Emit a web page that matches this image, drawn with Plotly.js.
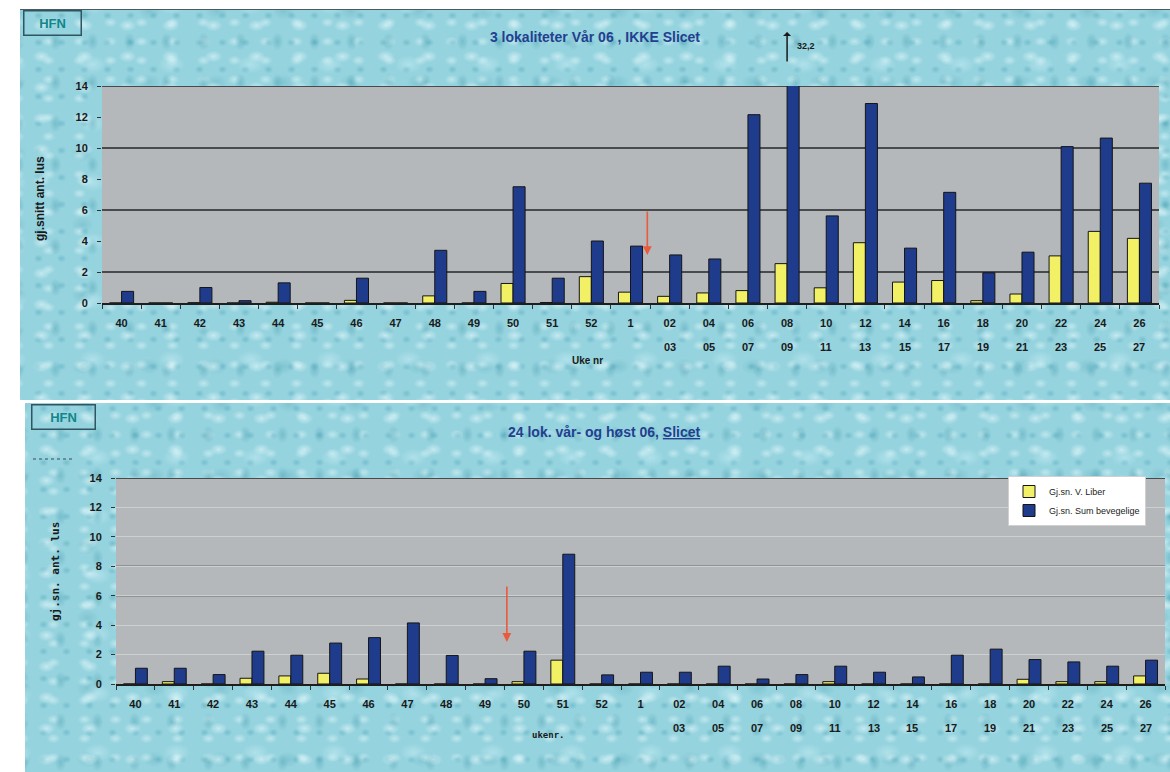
<!DOCTYPE html>
<html>
<head>
<meta charset="utf-8">
<script src="https://cdn.plot.ly/plotly-3.0.1.min.js"></script>
<style>
  html, body { margin:0; padding:0; background:#ffffff; }
  #wrap { position:relative; width:1170px; height:772px; overflow:hidden; background:#fff; }
  .panel {
    position:absolute;
    background-color:#95d3de;
    background-image:
      radial-gradient(ellipse 9px 6px at 50% 50%, rgba(235,252,255,0.55), rgba(235,252,255,0) 100%),
      radial-gradient(ellipse 6px 9px at 50% 50%, rgba(40,135,155,0.28), rgba(40,135,155,0) 100%),
      radial-gradient(ellipse 14px 9px at 50% 50%, rgba(215,246,252,0.4), rgba(215,246,252,0) 100%),
      radial-gradient(ellipse 5px 4px at 50% 50%, rgba(50,145,170,0.3), rgba(50,145,170,0) 100%),
      radial-gradient(ellipse 7px 5px at 50% 50%, rgba(240,255,255,0.45), rgba(240,255,255,0) 100%),
      radial-gradient(ellipse 11px 8px at 50% 50%, rgba(60,150,170,0.22), rgba(60,150,170,0) 100%);
    background-size: 43px 31px, 37px 41px, 79px 59px, 23px 27px, 31px 19px, 67px 71px;
    background-position: 0 0, 17px 11px, 33px 25px, 7px 19px, 13px 3px, 29px 37px;
  }
  #p1 { left:20px; top:9px; width:1150px; height:390px; border-top:1px solid #4a5a60; }
  #p2 { left:25px; top:403px; width:1145px; height:369px; }
  #chart { position:absolute; left:0; top:0; width:1170px; height:772px; }
</style>
</head>
<body>
<div id="wrap">
  <div class="panel" id="p1"></div>
  <div class="panel" id="p2"></div>
  <div id="chart"></div>
</div>
<script>
// Week categories (first line of tick label) and second line for paired weeks
const weeks = ['40','41','42','43','44','45','46','47','48','49','50','51','52','1',
               '02','04','06','08','10','12','14','16','18','20','22','24','26'];
const weeks2 = ['','','','','','','','','','','','','','',
               '03','05','07','09','11','13','15','17','19','21','23','25','27'];

// Top chart: 3 lokaliteter Vår 06, IKKE Slicet
const topYellow = [0,0,0.02,0,0.05,0,0.17,0,0.46,0,1.26,0.03,1.7,0.7,
                   0.43,0.65,0.8,2.54,0.98,3.89,1.35,1.45,0.15,0.58,3.04,4.62,4.17];
const topBlue   = [0.75,0,1.0,0.15,1.3,0,1.6,0,3.4,0.75,7.5,1.6,4.0,3.67,
                   3.1,2.84,12.15,32.2,5.62,12.87,3.54,7.14,1.95,3.28,10.09,10.64,7.73];

// Bottom chart: 24 lok. vår- og høst 06, Slicet
const botYellow = [0,0.16,0,0.39,0.55,0.73,0.34,0,0,0,0.16,1.62,0,0,
                   0,0,0,0,0.16,0,0,0,0,0.32,0.16,0.16,0.55];
const botBlue   = [1.07,1.07,0.64,2.23,1.96,2.78,3.15,4.15,1.94,0.36,2.23,8.82,0.62,0.8,
                   0.8,1.21,0.34,0.64,1.21,0.8,0.48,1.96,2.37,1.66,1.5,1.21,1.62];

const seriesNames = ['Gj.sn. V. Liber', 'Gj.sn. Sum bevegelige'];
const yTicks = [0,2,4,6,8,10,12,14];
const topDarkGrid = [2,6,10,14];
const botDarkGrid = [6,8,14];

const YELLOW = '#f2f064', BLUE = '#1f3b8c', OUTL = '#151515';

const traces = [
  {type:'bar', x:weeks, y:topYellow, xaxis:'x', yaxis:'y', name:seriesNames[0], showlegend:false,
   marker:{color:YELLOW, line:{color:OUTL, width:1}}},
  {type:'bar', x:weeks, y:topBlue, xaxis:'x', yaxis:'y', name:seriesNames[1], showlegend:false,
   marker:{color:BLUE, line:{color:OUTL, width:1}}},
  {type:'bar', x:weeks, y:botYellow, xaxis:'x2', yaxis:'y2', name:seriesNames[0], showlegend:true,
   marker:{color:YELLOW, line:{color:OUTL, width:1}}},
  {type:'bar', x:weeks, y:botBlue, xaxis:'x2', yaxis:'y2', name:seriesNames[1], showlegend:true,
   marker:{color:BLUE, line:{color:OUTL, width:1}}}
];

const tickFont = {family:'Liberation Sans, Arial, sans-serif', size:11, color:'#1a1a1a', weight:'bold'};
const W = 1170, H = 772;
const px = v => v / W, py = v => 1 - v / H;

const yBase = {range:[0,14], tickmode:'array', tickvals:yTicks, ticks:'outside', ticklen:4,
  tickcolor:'#333', tickfont:tickFont, zeroline:false, showline:false, fixedrange:true,
  ticklabelstandoff:7};
const xBase = {type:'category', ticks:'outside', tickson:'boundaries', ticklen:4, tickcolor:'#333',
  tickfont:tickFont, showline:true, linecolor:'#1e1e1e', linewidth:1.5, showgrid:false,
  ticklabelstandoff:9, fixedrange:true};

const shapes = [
  {type:'line', xref:'paper', yref:'paper', x0:px(33), x1:px(73), y0:py(459), y1:py(459),
   line:{color:'#3a4a55', width:1, dash:'dot'}}
];
topDarkGrid.forEach(v => shapes.push({type:'line', layer:'below', xref:'x domain', yref:'y',
  x0:0, x1:1, y0:v, y1:v, line:{color:'#262626', width:1.3}}));
botDarkGrid.forEach(v => shapes.push({type:'line', layer:'below', xref:'x2 domain', yref:'y2',
  x0:0, x1:1, y0:v, y1:v, line:{color:'#262626', width:1.3}}));

const C = {xanchor:'center', yanchor:'middle', showarrow:false};
const annotations = [
  Object.assign({xref:'paper', yref:'paper', x:px(604), y:py(432),
   text:'24 lok. vår- og høst 06, <span style="text-decoration:underline">Slicet</span>',
   font:{size:14, color:'#233f8f', weight:'bold'}}, C),
  Object.assign({xref:'paper', yref:'paper', x:px(52), y:py(23.5), text:'HFN',
   width:56, height:23, bordercolor:'#2f5560', borderwidth:1.5, borderpad:0,
   font:{size:13, color:'#12868a', weight:'bold'}}, C),
  Object.assign({xref:'paper', yref:'paper', x:px(63), y:py(416.5), text:'HFN',
   width:62, height:23, bordercolor:'#2f5560', borderwidth:1.5, borderpad:0,
   font:{size:13, color:'#12868a', weight:'bold'}}, C),
  Object.assign({xref:'paper', yref:'paper', x:px(40), y:py(199), textangle:-90,
   text:'gj.snitt ant. lus', font:{size:12, color:'#1a1a1a', weight:'bold'}}, C),
  Object.assign({xref:'paper', yref:'paper', x:px(55), y:py(572), textangle:-90,
   text:'gj.sn. ant. lus', font:{family:'DejaVu Sans Mono, monospace', size:11, color:'#1a1a1a', weight:'bold'}}, C),
  Object.assign({xref:'paper', yref:'paper', x:px(587), y:py(360),
   text:'Uke nr', font:{size:10, color:'#1a1a1a', weight:'bold'}}, C),
  Object.assign({xref:'paper', yref:'paper', x:px(548), y:py(735),
   text:'ukenr.', font:{family:'DejaVu Sans Mono, monospace', size:9, color:'#1a1a1a', weight:'bold'}}, C),
  // off-scale marker for 08/09 (value 32,2)
  {xref:'x', yref:'paper', x:weeks.indexOf('08'), y:py(32), ax:0, ay:31, text:'', showarrow:true,
   arrowhead:1, arrowsize:0.9, arrowwidth:1.5, arrowcolor:'#1a1a1a'},
  Object.assign({xref:'paper', yref:'paper', x:px(806), y:py(46), text:'32,2',
   font:{size:9, color:'#1a1a1a', weight:'bold'}}, C),
  // red arrows
  {xref:'x', yref:'y', axref:'x', ayref:'y', x:13.43, y:3.1, ax:13.43, ay:6.0, text:'', showarrow:true,
   arrowhead:2, arrowsize:1.1, arrowwidth:1.6, arrowcolor:'#ea5a3c'},
  {xref:'x2', yref:'y2', axref:'x2', ayref:'y2', x:9.56, y:2.86, ax:9.56, ay:6.73, text:'', showarrow:true,
   arrowhead:2, arrowsize:1.1, arrowwidth:1.6, arrowcolor:'#ea5a3c'}
];
// second line of the paired-week tick labels
weeks2.forEach((t, i) => {
  if (!t) return;
  annotations.push({xref:'x', yref:'y domain', x:i, y:0, yshift:-44, text:t, showarrow:false,
    xanchor:'center', yanchor:'middle', font:tickFont});
  annotations.push({xref:'x2', yref:'y2 domain', x:i, y:0, yshift:-44, text:t, showarrow:false,
    xanchor:'center', yanchor:'middle', font:tickFont});
});

const layout = {
  width:W, height:H,
  margin:{l:0, r:0, t:0, b:0},
  paper_bgcolor:'rgba(0,0,0,0)',
  plot_bgcolor:'#b4b8ba',
  barmode:'group', bargap:0.385, bargroupgap:0,
  font:{family:'Liberation Sans, Arial, sans-serif'},
  title:{text:'3 lokaliteter Vår 06 , IKKE Slicet', x:px(595), y:py(37), xanchor:'center', yanchor:'middle',
         font:{size:14, color:'#233f8f', weight:'bold'}},
  xaxis: Object.assign({}, xBase, {domain:[px(102), px(1159)], anchor:'y'}),
  yaxis: Object.assign({}, yBase, {domain:[py(303), py(86)], anchor:'x', showgrid:false}),
  xaxis2: Object.assign({}, xBase, {domain:[px(116), px(1165)], anchor:'y2'}),
  yaxis2: Object.assign({}, yBase, {domain:[py(684), py(478)], anchor:'x2', showgrid:true,
           gridcolor:'#cdd0d1', gridwidth:1}),
  showlegend:true,
  legend:{x:px(1008), y:py(476), xanchor:'left', yanchor:'top', bgcolor:'#ffffff',
          bordercolor:'#d0d0d0', borderwidth:1, font:{size:9, color:'#222'},
          itemwidth:30, tracegroupgap:0},
  shapes:shapes,
  annotations:annotations
};

Plotly.newPlot('chart', traces, layout, {displayModeBar:false, staticPlot:true});
</script>
</body>
</html>
